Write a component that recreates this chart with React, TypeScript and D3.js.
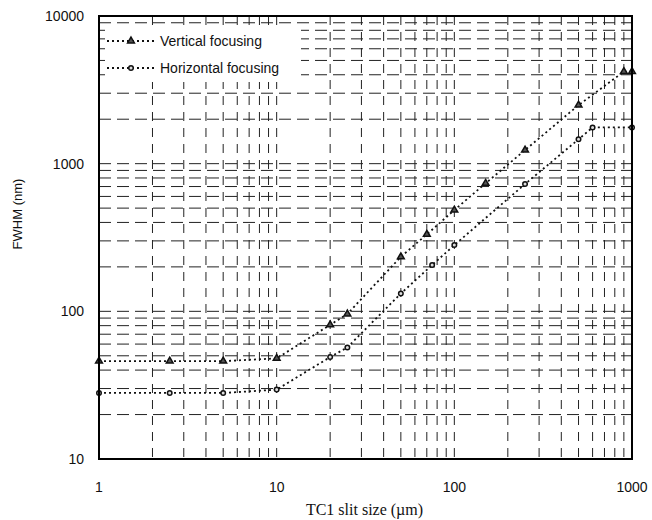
import React, { useEffect, useRef } from 'react';
import * as d3 from 'd3';

// Vertical focusing (triangles)
const vertX = [1, 2.5, 5, 10, 20, 25, 50, 70, 100, 150, 250, 500, 900, 1000];
const vertY = [46, 46, 46, 48, 81, 96, 234, 332, 485, 736, 1236, 2490, 4200, 4200];
// Horizontal focusing (circles)
const horzX = [1, 2.5, 5, 10, 20, 25, 50, 75, 100, 250, 500, 600, 1000];
const horzY = [28, 28, 28, 29.5, 49, 57, 132, 206, 281, 728, 1462, 1760, 1760];

const xTicks = [1, 10, 100, 1000];
const yTicks = [10, 100, 1000, 10000];
const seriesNames = ['Vertical focusing', 'Horizontal focusing'];

function App() {
  const ref = useRef<SVGSVGElement>(null);

  useEffect(() => {
    document.body.style.margin = '0';
    const svg = d3.select(ref.current);
    svg.selectAll('*').remove();

    const margin = { top: 16, right: 20, bottom: 61, left: 99 };
    const width = 652 - margin.left - margin.right;
    const height = 520 - margin.top - margin.bottom;

    const x = d3.scaleLog().domain([1, 1000]).range([0, width]);
    const y = d3.scaleLog().domain([10, 10000]).range([height, 0]);

    const g = svg.append('g')
      .attr('transform', `translate(${margin.left},${margin.top})`);

    // grid values: every 1..9 step in each decade
    const gridVals = (lo: number, hi: number) => {
      const out: number[] = [];
      for (let d = lo; d < hi; d *= 10) {
        for (let k = 1; k <= 9; k++) out.push(d * k);
      }
      return out.filter(v => v > lo && v < hi);
    };

    g.append('g')
      .selectAll('line')
      .data(gridVals(1, 1000))
      .join('line')
      .attr('x1', d => x(d)).attr('x2', d => x(d))
      .attr('y1', 0).attr('y2', height)
      .attr('stroke', '#222')
      .attr('stroke-width', 1)
      .attr('stroke-dasharray', '9,7');

    g.append('g')
      .selectAll('line')
      .data(gridVals(10, 10000))
      .join('line')
      .attr('y1', d => y(d)).attr('y2', d => y(d))
      .attr('x1', 0).attr('x2', width)
      .attr('stroke', '#222')
      .attr('stroke-width', 1)
      .attr('stroke-dasharray', '12,6');

    // legend background hides grid
    g.append('rect')
      .attr('x', 6).attr('y', 9)
      .attr('width', 196).attr('height', 57)
      .attr('fill', 'white');

    const line = d3.line<[number, number]>()
      .x(d => x(d[0]))
      .y(d => y(d[1]));

    const triangle = d3.symbol().type(d3.symbolTriangle).size(20);
    const circle = d3.symbol().type(d3.symbolCircle).size(16);

    const series = [
      { pts: vertX.map((v, i) => [v, vertY[i]] as [number, number]), sym: triangle, fill: '#555' },
      { pts: horzX.map((v, i) => [v, horzY[i]] as [number, number]), sym: circle, fill: '#ddd' },
    ];

    series.forEach(s => {
      g.append('path')
        .datum(s.pts)
        .attr('d', line)
        .attr('fill', 'none')
        .attr('stroke', '#111')
        .attr('stroke-width', 1.8)
        .attr('stroke-dasharray', '2,3');
      g.append('g')
        .selectAll('path')
        .data(s.pts)
        .join('path')
        .attr('transform', d => `translate(${x(d[0])},${y(d[1])})`)
        .attr('d', s.sym)
        .attr('fill', s.fill)
        .attr('stroke', '#111')
        .attr('stroke-width', 1.5);
    });

    // frame
    g.append('rect')
      .attr('width', width).attr('height', height)
      .attr('fill', 'none')
      .attr('stroke', '#000')
      .attr('stroke-width', 2);

    // legend
    series.forEach((s, i) => {
      const ly = 25 + i * 27;
      g.append('line')
        .attr('x1', 8).attr('x2', 56)
        .attr('y1', ly).attr('y2', ly)
        .attr('stroke', '#111')
        .attr('stroke-width', 1.8)
        .attr('stroke-dasharray', '2,3');
      g.append('path')
        .attr('transform', `translate(32,${ly})`)
        .attr('d', s.sym)
        .attr('fill', s.fill)
        .attr('stroke', '#111')
        .attr('stroke-width', 1.5);
      g.append('text')
        .attr('x', 61).attr('y', ly + 5)
        .attr('font-family', 'Liberation Sans, Arial, sans-serif')
        .attr('font-size', 14)
        .attr('fill', '#111')
        .text(seriesNames[i]);
    });

    // tick labels
    g.append('g')
      .selectAll('text')
      .data(xTicks)
      .join('text')
      .attr('x', d => x(d))
      .attr('y', height + 33)
      .attr('text-anchor', 'middle')
      .attr('font-family', 'Liberation Sans, Arial, sans-serif')
      .attr('font-size', 14)
      .attr('fill', '#111')
      .text(d => d);

    g.append('g')
      .selectAll('text')
      .data(yTicks)
      .join('text')
      .attr('x', -15)
      .attr('y', d => y(d) + 5)
      .attr('text-anchor', 'end')
      .attr('font-family', 'Liberation Sans, Arial, sans-serif')
      .attr('font-size', 14)
      .attr('fill', '#111')
      .text(d => d);

    // axis titles
    svg.append('text')
      .attr('x', margin.left + width / 2 - 1)
      .attr('y', 515)
      .attr('text-anchor', 'middle')
      .attr('font-family', 'Liberation Serif, Times New Roman, serif')
      .attr('font-size', 16)
      .attr('fill', '#111')
      .text('TC1 slit size (\u00b5m)');

    svg.append('text')
      .attr('transform', 'translate(22,214) rotate(-90)')
      .attr('text-anchor', 'middle')
      .attr('font-family', 'Liberation Sans, Arial, sans-serif')
      .attr('font-size', 13)
      .attr('fill', '#111')
      .text('FWHM (nm)');
  }, []);

  return (
    <svg ref={ref} width={652} height={520} style={{ display: 'block', background: 'white' }}></svg>
  );
}

export default App;
